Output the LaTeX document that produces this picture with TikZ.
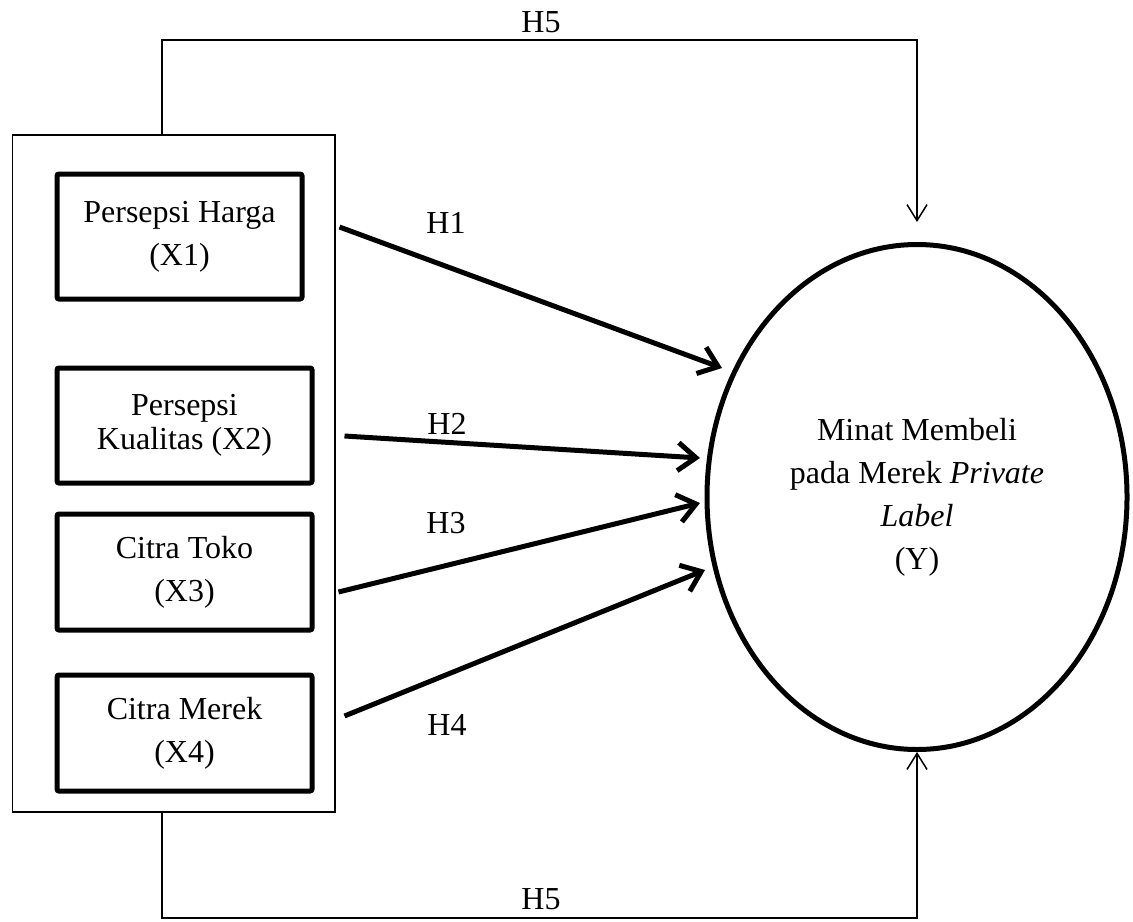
\documentclass[tikz,border=0pt]{standalone}
\usepackage{fontspec}
\setmainfont{Liberation Serif}
\usetikzlibrary{shapes.geometric,arrows.meta}

\begin{document}
\begin{tikzpicture}[x=0.5pt,y=-0.5pt,
    var/.style={draw,line width=2.5pt,rounded corners=1pt,minimum width=127.5pt,minimum height=58pt,inner sep=0pt,align=center,font=\fontsize{16}{21.5}\selectfont},
    hyp/.style={line width=2.5pt,-{Straight Barb[length=9pt,width=14pt]}},
    mod/.style={line width=0.75pt,-{Straight Barb[length=8pt,width=10pt]}},
    lbl/.style={inner sep=0pt,font=\fontsize{16}{19}\selectfont}]
    \useasboundingbox (0,0) rectangle (1133,921);

    % kotak variabel bebas
    \node[draw,line width=0.75pt,minimum width=161.25pt,minimum height=338.5pt,inner sep=0pt] (grp) at (173.75,473.5) {};
    \node[var,minimum width=122.5pt,minimum height=62.5pt] (x1) at (179.5,236.5) {Persepsi Harga\\(X1)};
    \node[var,minimum height=57.5pt,font=\fontsize{16}{17}\selectfont] (x2) at (184.5,425.5) {Persepsi\\Kualitas (X2)};
    \node[var] (x3) at (184.5,572) {Citra Toko\\(X3)};
    \node[var] (x4) at (184.5,733) {Citra Merek\\(X4)};

    % variabel terikat
    \node[draw,ellipse,line width=2.5pt,minimum width=210pt,minimum height=252.5pt,inner sep=0pt,align=center,font=\fontsize{16}{21.5}\selectfont] (y) at (917,497)
        {Minat Membeli\\pada Merek \textit{Private}\\\textit{Label}\\(Y)};

    % ujung panah
    \coordinate (t1) at (722,368);
    \coordinate (t2) at (700,458);
    \coordinate (t3) at (700,503);
    \coordinate (t4) at (705,570);
    \coordinate (top5) at (162,40);
    \coordinate (bot5) at (162,918);

    \draw[hyp] ([shift={(35,-9.5)}]x1.east) -- (t1);
    \draw[hyp] ([shift={(30,10.5)}]x2.east) -- (t2);
    \draw[hyp] ([shift={(24,20)}]x3.east) -- (t3);
    \draw[hyp] ([shift={(30,-17)}]x4.east) -- (t4);

    \draw[mod] (grp.north -| top5) -- (top5) -| ([shift={(0,-20)}]y.north);
    \draw[mod] (grp.south -| bot5) -- (bot5) -| (y.south);

    \node[lbl] (h1) at (446,223) {H1};
    \node[lbl] (h2) at (447,424) {H2};
    \node[lbl] (h3) at (446,523) {H3};
    \node[lbl] (h4) at (447,725) {H4};
    \node[lbl] (h5a) at (541,22) {H5};
    \node[lbl] (h5b) at (541,899) {H5};
\end{tikzpicture}
\end{document}
